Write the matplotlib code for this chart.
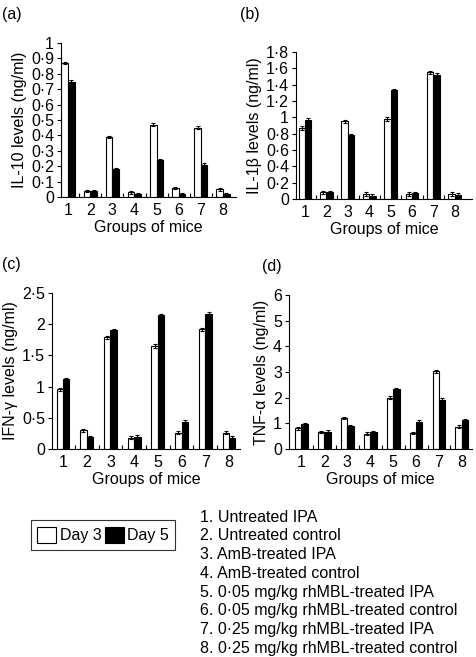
import numpy as np
import matplotlib
matplotlib.use("Agg")
import matplotlib.pyplot as plt
from matplotlib.patches import Patch
from matplotlib.ticker import FuncFormatter

plt.rcParams["font.family"] = ["Liberation Sans", "DejaVu Sans"]

#
# Data
#
groups = [1, 2, 3, 4, 5, 6, 7, 8]

il10_day3 = [0.87, 0.04, 0.39, 0.03, 0.47, 0.06, 0.45, 0.05]
il10_day5 = [0.75, 0.04, 0.18, 0.02, 0.24, 0.02, 0.21, 0.02]

il1b_day3 = [0.87, 0.08, 0.95, 0.06, 0.98, 0.06, 1.55, 0.06]
il1b_day5 = [0.97, 0.08, 0.78, 0.04, 1.33, 0.07, 1.52, 0.05]

ifng_day3 = [0.96, 0.30, 1.79, 0.18, 1.65, 0.26, 1.92, 0.26]
ifng_day5 = [1.12, 0.19, 1.90, 0.20, 2.14, 0.44, 2.17, 0.18]

tnfa_day3 = [0.80, 0.67, 1.20, 0.60, 2.00, 0.63, 3.02, 0.87]
tnfa_day5 = [0.97, 0.68, 0.90, 0.66, 2.32, 1.07, 1.92, 1.12]

group_names = [
    "1. Untreated IPA",
    "2. Untreated control",
    "3. AmB-treated IPA",
    "4. AmB-treated control",
    "5. 0\u00b705 mg/kg rhMBL-treated IPA",
    "6. 0\u00b705 mg/kg rhMBL-treated control",
    "7. 0\u00b725 mg/kg rhMBL-treated IPA",
    "8. 0\u00b725 mg/kg rhMBL-treated control",
]

W, H = 476, 657
FS = 11.5
fig = plt.figure(figsize=(W / 100, H / 100), dpi=100)


def px_axes(left, right, top, bottom):
    return fig.add_axes([left / W, 1 - bottom / H, (right - left) / W, (bottom - top) / H])


def dot_fmt(v, pos):
    s = ("%.2f" % v).rstrip("0").rstrip(".")
    return s.replace(".", "\u00b7")


def panel(ax, d3, d5, err, ymax, ystep, xlim, width, ylabel, letter, lpos):
    x = np.array(groups, dtype=float)
    ax.bar(x - width / 2, d3, width, color="white", edgecolor="black", linewidth=0.8,
           yerr=err, error_kw=dict(elinewidth=0.8, capsize=1.5, capthick=0.8))
    ax.bar(x + width / 2, d5, width, color="black", edgecolor="black", linewidth=0.8,
           yerr=err, error_kw=dict(elinewidth=0.8, capsize=1.5, capthick=0.8))
    ax.set_xlim(*xlim)
    ax.set_ylim(0, ymax)
    ax.set_yticks(np.arange(0, ymax + ystep / 2, ystep))
    ax.yaxis.set_major_formatter(FuncFormatter(dot_fmt))
    ax.set_xticks(groups)
    ax.set_xticks(np.arange(1.5, 8.5, 1), minor=True)
    ax.tick_params(axis="x", which="major", length=0, labelsize=FS, pad=4)
    ax.tick_params(axis="x", which="minor", direction="in", length=3, width=0.8)
    ax.tick_params(axis="y", direction="out", length=3, width=0.8, labelsize=FS, pad=2)
    for s in ["top", "right"]:
        ax.spines[s].set_visible(False)
    for s in ["left", "bottom"]:
        ax.spines[s].set_linewidth(0.8)
    ax.set_ylabel(ylabel, fontsize=FS, labelpad=3)
    ax.set_xlabel("Groups of mice", fontsize=FS, labelpad=2)
    fig.text(lpos[0] / W, 1 - lpos[1] / H, letter, fontsize=FS, ha="left", va="center")


ax_a = px_axes(61, 236, 43, 197)
panel(ax_a, il10_day3, il10_day5, 0.008, 1.0, 0.1, (0.68, 8.59), 0.3,
      "IL-10 levels (ng/ml)", "(a)", (2, 14))

ax_b = px_axes(296, 472, 52, 199)
panel(ax_b, il1b_day3, il1b_day5, 0.02, 1.8, 0.2, (0.58, 8.8), 0.3,
      "IL-1\u03b2 levels (ng/ml)", "(b)", (240, 14))

ax_c = px_axes(52, 240, 293, 449)
panel(ax_c, ifng_day3, ifng_day5, 0.025, 2.5, 0.5, (0.54, 8.46), 0.27,
      "IFN-\u03b3 levels (ng/ml)", "(c)", (2, 265))

ax_d = px_axes(289, 472, 295, 449)
panel(ax_d, tnfa_day3, tnfa_day5, 0.05, 6, 1, (0.46, 8.44), 0.28,
      "TNF-\u03b1 levels (ng/ml)", "(d)", (262, 267))

#
# Legend and group list
#
handles = [Patch(facecolor="white", edgecolor="black", linewidth=0.8, label="Day 3"),
           Patch(facecolor="black", edgecolor="black", linewidth=0.8, label="Day 5")]
leg = fig.legend(handles=handles, loc="center", bbox_to_anchor=(103 / W, 1 - 535 / H),
                 ncol=2, fontsize=FS, frameon=True, fancybox=False, handlelength=1.2,
                 handleheight=1.2, handletextpad=0.2, columnspacing=0.2, borderpad=0.4,
                 borderaxespad=0)
leg.get_frame().set_edgecolor("black")
leg.get_frame().set_linewidth(0.8)

for i, name in enumerate(group_names):
    fig.text(200 / W, 1 - (517 + 18.8 * i) / H, name, fontsize=FS, ha="left", va="center")

fig.savefig("out.png", dpi=100)
